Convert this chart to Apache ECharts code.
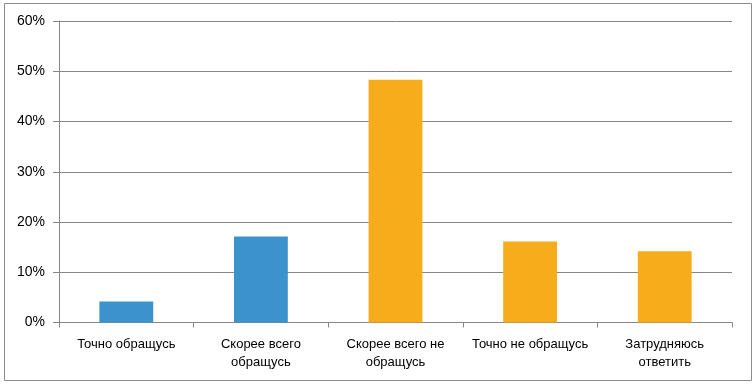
<!DOCTYPE html>
<html><head><meta charset="utf-8">
<script src="https://cdn.jsdelivr.net/npm/echarts@6/dist/echarts.min.js"></script>
<style>html,body{margin:0;padding:0;background:#fff}#c{width:756px;height:385px}</style>
</head><body><div id="c"></div>
<script>
const categories = ['Точно обращусь', 'Скорее всего\nобращусь', 'Скорее всего не\nобращусь', 'Точно не обращусь', 'Затрудняюсь\nответить'];
const values = [4.2, 17.1, 48.3, 16.1, 14.2];
const yTicks = [0, 10, 20, 30, 40, 50, 60];
const barColors = ['#3C92CC', '#3C92CC', '#F7AC1B', '#F7AC1B', '#F7AC1B'];

const chart = echarts.init(document.getElementById('c'), null, {renderer: 'canvas'});
const font = 'Liberation Sans, Arial, sans-serif';
chart.setOption({
  animation: false,
  backgroundColor: '#fff',
  graphic: [{type: 'rect', shape: {x: 4.5, y: 3.5, width: 747, height: 377}, style: {fill: 'none', stroke: '#8c8c8c', lineWidth: 1}, silent: true}],
  grid: {left: 59, right: 24, top: 21, bottom: 62.5, containLabel: false},
  xAxis: {
    type: 'category', data: categories,
    axisLine: {lineStyle: {color: '#868686'}},
    axisTick: {show: true, length: 5, lineStyle: {color: '#868686'}, alignWithLabel: false},
    axisLabel: {color: '#000', fontSize: 13, fontFamily: font, margin: 13, lineHeight: 18, interval: 0}
  },
  yAxis: {
    type: 'value', min: yTicks[0], max: yTicks[yTicks.length - 1], interval: 10,
    axisLine: {show: true, lineStyle: {color: '#868686'}},
    axisTick: {show: true, length: 6, lineStyle: {color: '#868686'}},
    splitLine: {lineStyle: {color: '#868686'}},
    axisLabel: {color: '#000', fontSize: 14, fontFamily: font, margin: 14, formatter: v => v + '%'}
  },
  series: [{
    type: 'bar', barCategoryGap: '60%',
    data: values.map((v, i) => ({value: v, itemStyle: {color: barColors[i]}}))
  }]
});
</script></body></html>
